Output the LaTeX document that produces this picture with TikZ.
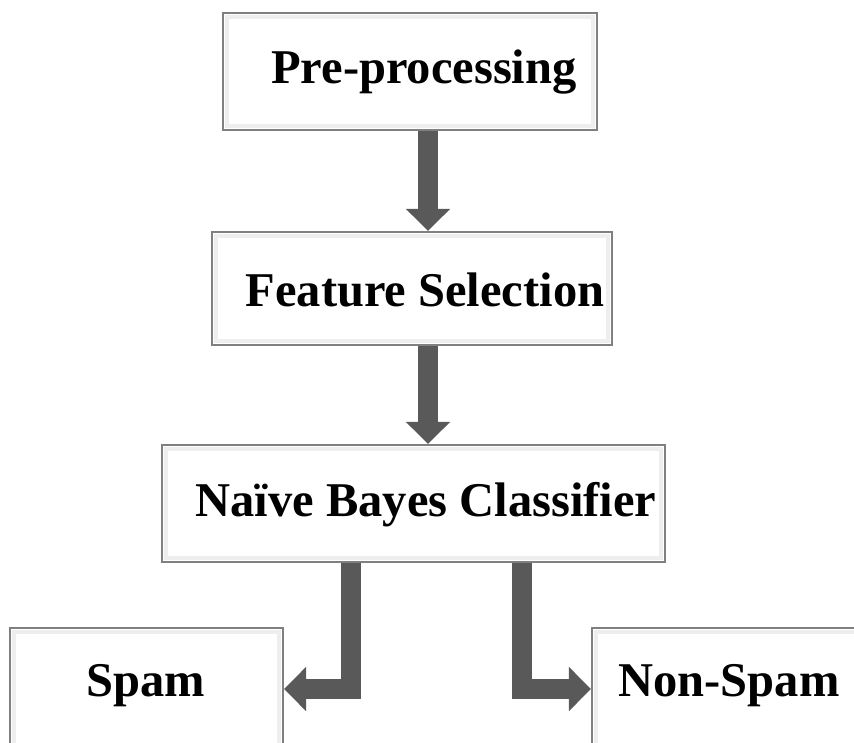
\documentclass[tikz,border=0pt]{standalone}
\usepackage{fontspec}
\setmainfont{Liberation Serif}
\usetikzlibrary{arrows.meta}
\definecolor{arrgray}{HTML}{595959}
\definecolor{boxedge}{HTML}{808080}
\tikzset{
  box/.style={draw=boxedge, line width=2.2pt, fill=white, rectangle, inner sep=0pt},
  label/.style={font=\fontsize{48.5}{56}\selectfont\bfseries, inner sep=0pt},
  bevel/.style={draw=gray!13, line width=4pt},
  bigarrow/.style={draw=arrgray, line width=20pt, line join=miter,
    -{Triangle[width=43pt,length=22pt,fill=arrgray]}}
}
\begin{document}
\begin{tikzpicture}[x=1pt,y=-1pt]
\useasboundingbox (0,0) rectangle (854,742);
\node[box, minimum width=374pt, minimum height=117pt] (pre) at (410,71.5) {};
\node[box, minimum width=400pt, minimum height=113pt] (fs) at (412,288.5) {};
\node[box, minimum width=503pt, minimum height=117pt] (nb) at (413.5,503.5) {};
\node[box, minimum width=273pt, minimum height=122pt] (spam) at (146.5,689) {};
\node[box, minimum width=274pt, minimum height=122pt] (ns) at (729,689) {};
\foreach \n in {pre,fs,nb,spam,ns}
  \draw[bevel] ([shift={(5pt,-5pt)}]\n.north west) rectangle ([shift={(-5pt,5pt)}]\n.south east);
\node[label] (pret) at (424,72) {Pre-processing};
\node[label] (fst) at (425,290) {Feature Selection};
\node[label] (nbt) at (426,505) {Naïve Bayes Classifier};
\node[label] (spamt) at (146,686) {Spam};
\node[label] (nst) at (729,686) {Non-Spam};
\coordinate (x1) at (428,0);
\coordinate (xl) at (351,0);
\coordinate (xr) at (522,0);
\draw[bigarrow] (pre.south -| x1) -- (fs.north -| x1);
\draw[bigarrow] (fs.south -| x1) -- (nb.north -| x1);
\draw[bigarrow] (nb.south -| xl) |- (spam.east);
\draw[bigarrow] (nb.south -| xr) |- (ns.west);
\end{tikzpicture}
\end{document}
